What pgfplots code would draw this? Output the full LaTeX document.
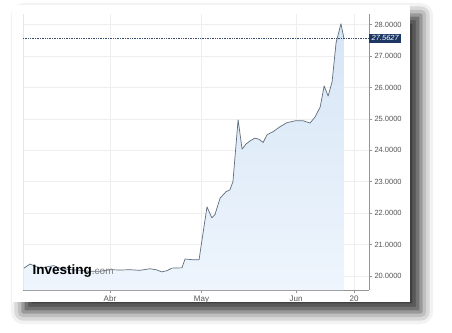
\documentclass[border=0pt]{standalone}
\usepackage{pgfplots}
\pgfplotsset{compat=1.18}
\usepackage{fontspec}
\setmainfont{Liberation Sans}
\usetikzlibrary{shadows.blur}
\definecolor{linec}{RGB}{95,110,126}
\definecolor{gridc}{RGB}{238,238,238}
\definecolor{axisc}{RGB}{150,150,150}
\definecolor{labc}{RGB}{85,85,85}
\definecolor{navyc}{RGB}{28,55,100}
\definecolor{filltop}{RGB}{214,229,245}
\definecolor{fillbot}{RGB}{238,245,253}
\begin{document}
\begin{tikzpicture}[x=1pt,y=1pt]
\path (0,0) rectangle (452,332);
\fill[white, blur shadow={shadow xshift=11pt,shadow yshift=-10pt,shadow blur radius=12pt,shadow opacity=80}] (12,30) rectangle (410,327);
\begin{axis}[
  at={(23pt,42pt)}, anchor=south west,
  scale only axis, width=346pt, height=276pt,
  xmin=-28.5, xmax=84.9, ymin=19.554, ymax=28.34,
  clip=false,
  axis line style={axisc, line width=0.6pt},
  axis x line*=bottom, axis y line*=right,
  xtick={0,30,61,80}, xticklabels={Abr,May,Jun,20},
  ytick={20,21,...,28},
  yticklabel pos=right,
  tick align=outside, major tick length=3pt,
  tick style={axisc, line width=0.5pt},
  grid=major, major grid style={gridc, line width=0.5pt},
  /pgf/number format/.cd, fixed, fixed zerofill, precision=4, assume math mode=true,
  /pgfplots/.cd,
  ticklabel style={font=\fontsize{7.5}{9}\selectfont, text=labc},
  xticklabel style={yshift=1pt, font=\fontsize{8}{9}\selectfont},
  yticklabel style={xshift=-1pt},
]
\draw[gridc!60!gray!40, line width=0.5pt] (rel axis cs:0,0) -- (rel axis cs:0,1);
\addplot[draw=none, top color=filltop, bottom color=fillbot] coordinates {
(-28.2,20.25) (-26.2,20.38) (-24.3,20.30) (-22.3,20.25) (-20.3,20.30) (-18.4,20.33)
(-16.4,20.25) (-14.4,20.22) (-12.5,20.20) (-9.8,20.18) (-6.6,20.15) (-3.3,20.15)
(0,20.20) (3.3,20.19) (6.6,20.20) (9.8,20.18) (13.1,20.23) (15.1,20.20) (17.0,20.13)
(18.7,20.17) (20.3,20.25) (23.6,20.26) (24.6,20.54) (26.9,20.52) (29.2,20.52)
(31.8,22.20) (33.4,21.85) (34.4,21.95) (36.1,22.48) (38.0,22.68) (39.3,22.74)
(40.3,23.00) (42.0,24.97) (43.3,24.04) (44.6,24.20) (45.9,24.30) (47.5,24.39)
(48.9,24.35) (50.2,24.25) (51.5,24.50) (53.4,24.59) (55.7,24.75) (58.0,24.88)
(60.7,24.94) (63.3,24.94) (65.6,24.87) (67.2,25.06) (68.9,25.38) (70.2,26.05)
(71.5,25.73) (72.8,26.18) (74.1,27.42) (75.7,28.03) (76.7,27.56)
} \closedcycle;
\addplot[linec, line width=0.7pt, line join=round] coordinates {
(-28.2,20.25) (-26.2,20.38) (-24.3,20.30) (-22.3,20.25) (-20.3,20.30) (-18.4,20.33)
(-16.4,20.25) (-14.4,20.22) (-12.5,20.20) (-9.8,20.18) (-6.6,20.15) (-3.3,20.15)
(0,20.20) (3.3,20.19) (6.6,20.20) (9.8,20.18) (13.1,20.23) (15.1,20.20) (17.0,20.13)
(18.7,20.17) (20.3,20.25) (23.6,20.26) (24.6,20.54) (26.9,20.52) (29.2,20.52)
(31.8,22.20) (33.4,21.85) (34.4,21.95) (36.1,22.48) (38.0,22.68) (39.3,22.74)
(40.3,23.00) (42.0,24.97) (43.3,24.04) (44.6,24.20) (45.9,24.30) (47.5,24.39)
(48.9,24.35) (50.2,24.25) (51.5,24.50) (53.4,24.59) (55.7,24.75) (58.0,24.88)
(60.7,24.94) (63.3,24.94) (65.6,24.87) (67.2,25.06) (68.9,25.38) (70.2,26.05)
(71.5,25.73) (72.8,26.18) (74.1,27.42) (75.7,28.03) (76.7,27.56)
};
\addplot[navyc!70!gray, densely dotted, line width=0.7pt] coordinates {(-28.5,27.5627) (84.9,27.5627)};
\node[fill=navyc, text=white, anchor=west, inner xsep=2.5pt, inner ysep=1.5pt,
  font=\fontsize{7.5}{8}\selectfont\itshape] at (axis cs:84.9,27.5627) {27.5627};
\node[anchor=base west, inner sep=0pt] at (axis cs:-25.4,20.06) {\fontsize{13.5}{14}\selectfont\bfseries Investing\fontsize{10}{11}\selectfont\mdseries\color{gray}.com};
\end{axis}
\end{tikzpicture}
\end{document}
